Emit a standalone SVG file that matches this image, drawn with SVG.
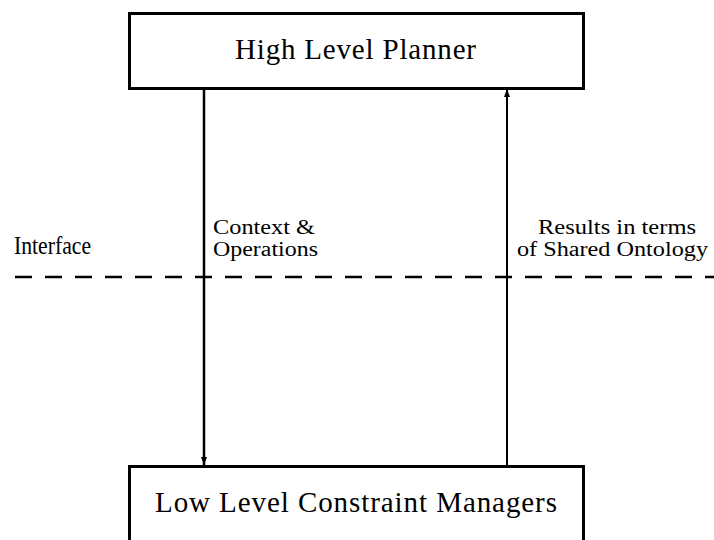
<svg xmlns="http://www.w3.org/2000/svg" width="714" height="540" viewBox="0 0 714 540">
<defs>
<style>
.box{fill:#fff;stroke:#000;stroke-width:3}
.t{font-family:"Liberation Serif",serif;fill:#000}
.big{font-size:29px}
.sm{font-size:20px}
</style>
<marker id="ah" markerWidth="8" markerHeight="10" refX="8" refY="3" orient="auto" markerUnits="userSpaceOnUse" viewBox="0 0 8 6">
<path d="M0,0 L8,3 L0,6 Z" fill="#000"/>
</marker>
</defs>
<rect width="714" height="540" fill="#fff"/>
<g id="connectors">
<line x1="15" y1="277" x2="714" y2="277" stroke="#000" stroke-width="2.5" stroke-dasharray="17 13"/>
<line x1="204" y1="89" x2="204" y2="465" stroke="#000" stroke-width="2.5" marker-end="url(#ah)"/>
<line x1="507" y1="466" x2="507" y2="89" stroke="#000" stroke-width="2" marker-end="url(#ah)"/>
</g>
<g id="high">
<rect class="box" x="129.5" y="13.5" width="454" height="75"/>
<text class="t big" x="235" y="59" textLength="241" lengthAdjust="spacing">High Level Planner</text>
</g>
<g id="low">
<rect class="box" x="129.5" y="466.5" width="454" height="80"/>
<text class="t big" x="155" y="512" textLength="402" lengthAdjust="spacing">Low Level Constraint Managers</text>
</g>
<g id="interface">
<text class="t" font-size="26" x="14" y="254" textLength="77" lengthAdjust="spacingAndGlyphs">Interface</text>
</g>
<g id="labels">
<text class="t sm" x="213" y="234" textLength="102" lengthAdjust="spacingAndGlyphs">Context &amp;</text>
<text class="t sm" x="213" y="256" textLength="105" lengthAdjust="spacingAndGlyphs">Operations</text>
<text class="t sm" x="538" y="234" textLength="158" lengthAdjust="spacingAndGlyphs">Results in terms</text>
<text class="t sm" x="517" y="256" textLength="191" lengthAdjust="spacingAndGlyphs">of Shared Ontology</text>
</g>
</svg>
